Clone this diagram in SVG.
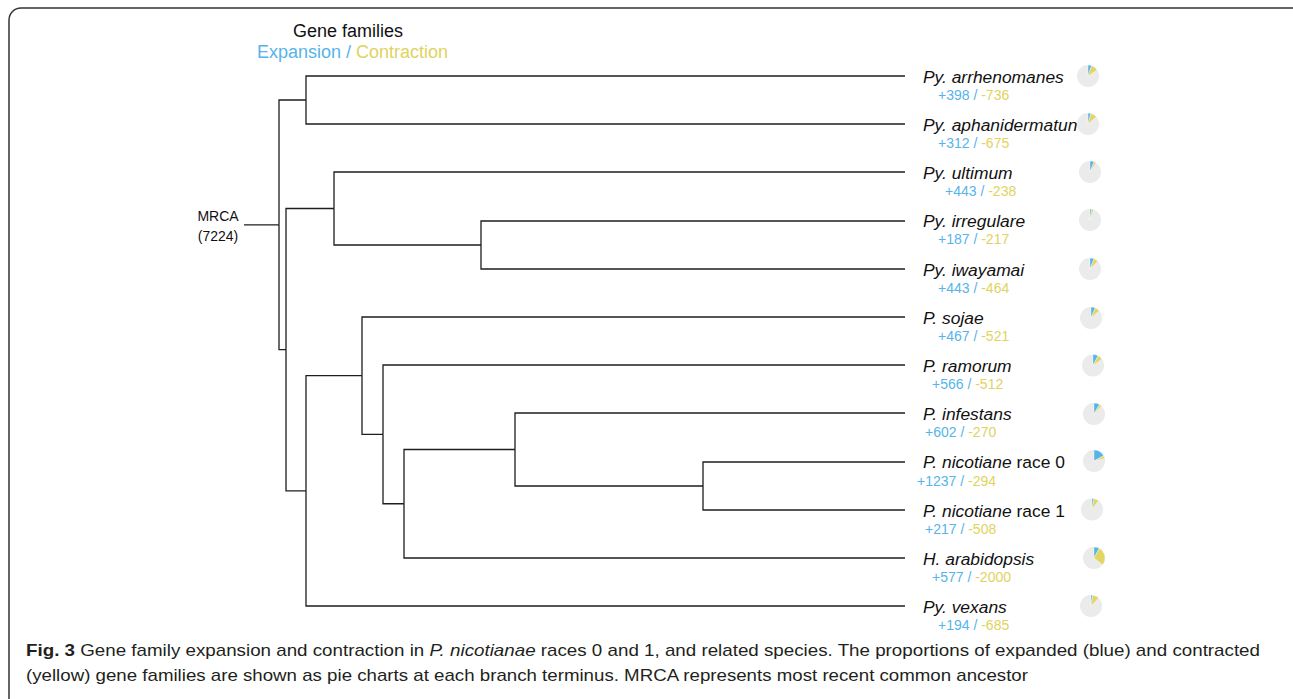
<svg xmlns="http://www.w3.org/2000/svg" width="1293" height="699" viewBox="0 0 1293 699">
<style>
.frame{fill:#fff;stroke:#333;stroke-width:1.5}
.edge{fill:none;stroke:#1e1e1e;stroke-width:1.3}
.sp{font-family:"Liberation Sans",Arial,sans-serif;font-size:17.4px;fill:#111}
.it{font-style:italic}
.num{font-family:"Liberation Sans",Arial,sans-serif;font-size:14px}
.ex{fill:#56B4E9}
.co{fill:#E0D35E}
.bg{fill:#ebebeb}
.pb{fill:#56B4E9;stroke:#fff;stroke-width:0.4}
.py{fill:#E2D563;stroke:#fff;stroke-width:0.4}
.hdr{font-family:"Liberation Sans",Arial,sans-serif;font-size:18px}
.mrca{font-family:"Liberation Sans",Arial,sans-serif;font-size:14px;fill:#111}
.cap{font-family:"Liberation Sans",Arial,sans-serif;font-size:17px;fill:#231f20}
</style>
<rect class="frame" x="9" y="8" width="1296" height="740" rx="12"/>

<g id="header">
<text class="hdr" x="293" y="37" fill="#111">Gene families</text>
<text class="hdr" x="257" y="58"><tspan class="ex">Expansion / </tspan><tspan class="co">Contraction</tspan></text>
</g>

<g id="mrca">
<text class="mrca" x="218" y="221" text-anchor="middle">MRCA</text>
<text class="mrca" x="218" y="241" text-anchor="middle">(7224)</text>
</g>

<g id="connectors">
<path class="edge" d="M244 224.8 H279"/>
<path class="edge" d="M279 224.8 V100 H306"/>
<path class="edge" d="M279 224.8 V349.7 H286"/>
<path class="edge" d="M306 100 V76 H905"/>
<path class="edge" d="M306 100 V124 H905"/>
<path class="edge" d="M286 349.7 V208.5 H334"/>
<path class="edge" d="M286 349.7 V490.85 H306"/>
<path class="edge" d="M334 208.5 V172 H905"/>
<path class="edge" d="M334 208.5 V245 H481"/>
<path class="edge" d="M481 245 V221 H905"/>
<path class="edge" d="M481 245 V269 H905"/>
<path class="edge" d="M306 490.85 V375.7 H362"/>
<path class="edge" d="M306 490.85 V606 H905"/>
<path class="edge" d="M362 375.7 V317 H905"/>
<path class="edge" d="M362 375.7 V434.4 H383"/>
<path class="edge" d="M383 434.4 V365 H905"/>
<path class="edge" d="M383 434.4 V503.75 H404"/>
<path class="edge" d="M404 503.75 V449.5 H515"/>
<path class="edge" d="M404 503.75 V558 H905"/>
<path class="edge" d="M515 449.5 V413 H905"/>
<path class="edge" d="M515 449.5 V486 H703"/>
<path class="edge" d="M703 486 V462 H905"/>
<path class="edge" d="M703 486 V510 H905"/>
</g>

<g id="arrhenomanes">
<text class="sp it" x="923" y="82.5">Py. arrhenomanes</text>
<text class="num" x="938" y="100"><tspan class="ex">+398 / </tspan><tspan class="co">-736</tspan></text>
<g transform="translate(1088,76)"><circle class="bg" r="11"/><path class="pb" d="M0 0 L0 -11 A11 11 0 0 1 3.73 -10.35 Z"/><path class="py" d="M0 0 L3.73 -10.35 A11 11 0 0 1 9.17 -6.07 Z"/></g>
</g>

<g id="aphanidermatum">
<text class="sp it" x="923" y="130.5">Py. aphanidermatun</text>
<text class="num" x="938" y="148"><tspan class="ex">+312 / </tspan><tspan class="co">-675</tspan></text>
<g transform="translate(1088,124)"><circle class="bg" r="11"/><path class="pb" d="M0 0 L0 -11 A11 11 0 0 1 2.95 -10.60 Z"/><path class="py" d="M0 0 L2.95 -10.60 A11 11 0 0 1 8.32 -7.19 Z"/></g>
</g>

<g id="ultimum">
<text class="sp it" x="923" y="178.5">Py. ultimum</text>
<text class="num" x="945" y="196"><tspan class="ex">+443 / </tspan><tspan class="co">-238</tspan></text>
<g transform="translate(1090,172)"><circle class="bg" r="11"/><path class="pb" d="M0 0 L0 -11 A11 11 0 0 1 4.13 -10.19 Z"/><path class="py" d="M0 0 L4.13 -10.19 A11 11 0 0 1 6.14 -9.13 Z"/></g>
</g>

<g id="irregulare">
<text class="sp it" x="923" y="227">Py. irregulare</text>
<text class="num" x="938" y="244"><tspan class="ex">+187 / </tspan><tspan class="co">-217</tspan></text>
<g transform="translate(1090,220)"><circle class="bg" r="11"/><path class="pb" d="M0 0 L0 -11 A11 11 0 0 1 1.78 -10.85 Z"/><path class="py" d="M0 0 L1.78 -10.85 A11 11 0 0 1 3.79 -10.33 Z"/></g>
</g>

<g id="iwayamai">
<text class="sp it" x="923" y="275.5">Py. iwayamai</text>
<text class="num" x="938" y="293"><tspan class="ex">+443 / </tspan><tspan class="co">-464</tspan></text>
<g transform="translate(1090,269)"><circle class="bg" r="11"/><path class="pb" d="M0 0 L0 -11 A11 11 0 0 1 4.13 -10.19 Z"/><path class="py" d="M0 0 L4.13 -10.19 A11 11 0 0 1 7.81 -7.75 Z"/></g>
</g>

<g id="sojae">
<text class="sp it" x="923" y="323.5">P. sojae</text>
<text class="num" x="938" y="341"><tspan class="ex">+467 / </tspan><tspan class="co">-521</tspan></text>
<g transform="translate(1091,318)"><circle class="bg" r="11"/><path class="pb" d="M0 0 L0 -11 A11 11 0 0 1 4.35 -10.10 Z"/><path class="py" d="M0 0 L4.35 -10.10 A11 11 0 0 1 8.33 -7.18 Z"/></g>
</g>

<g id="ramorum">
<text class="sp it" x="923" y="371.5">P. ramorum</text>
<text class="num" x="932" y="389"><tspan class="ex">+566 / </tspan><tspan class="co">-512</tspan></text>
<g transform="translate(1093,365.5)"><circle class="bg" r="11"/><path class="pb" d="M0 0 L0 -11 A11 11 0 0 1 5.20 -9.69 Z"/><path class="py" d="M0 0 L5.20 -9.69 A11 11 0 0 1 8.87 -6.51 Z"/></g>
</g>

<g id="infestans">
<text class="sp it" x="923" y="419.5">P. infestans</text>
<text class="num" x="925" y="437"><tspan class="ex">+602 / </tspan><tspan class="co">-270</tspan></text>
<g transform="translate(1094,414)"><circle class="bg" r="11"/><path class="pb" d="M0 0 L0 -11 A11 11 0 0 1 5.50 -9.53 Z"/><path class="py" d="M0 0 L5.50 -9.53 A11 11 0 0 1 7.57 -7.98 Z"/></g>
</g>

<g id="nicotiane0">
<text class="sp" x="923" y="468"><tspan class="it">P. nicotiane</tspan> race 0</text>
<text class="num" x="917" y="486"><tspan class="ex">+1237 / </tspan><tspan class="co">-294</tspan></text>
<g transform="translate(1094,461)"><circle class="bg" r="11"/><path class="pb" d="M0 0 L0 -11 A11 11 0 0 1 9.68 -5.23 Z"/><path class="py" d="M0 0 L9.68 -5.23 A11 11 0 0 1 10.69 -2.61 Z"/></g>
</g>

<g id="nicotiane1">
<text class="sp" x="923" y="516.5"><tspan class="it">P. nicotiane</tspan> race 1</text>
<text class="num" x="925" y="534"><tspan class="ex">+217 / </tspan><tspan class="co">-508</tspan></text>
<g transform="translate(1092,509.5)"><circle class="bg" r="11"/><path class="pb" d="M0 0 L0 -11 A11 11 0 0 1 2.06 -10.81 Z"/><path class="py" d="M0 0 L2.06 -10.81 A11 11 0 0 1 6.49 -8.88 Z"/></g>
</g>

<g id="arabidopsis">
<text class="sp it" x="923" y="564.5">H. arabidopsis</text>
<text class="num" x="932" y="582"><tspan class="ex">+577 / </tspan><tspan class="co">-2000</tspan></text>
<g transform="translate(1094,558)"><circle class="bg" r="11"/><path class="pb" d="M0 0 L0 -11 A11 11 0 0 1 5.29 -9.64 Z"/><path class="py" d="M0 0 L5.29 -9.64 A11 11 0 0 1 8.62 6.84 Z"/></g>
</g>

<g id="vexans">
<text class="sp it" x="923" y="612.5">Py. vexans</text>
<text class="num" x="938" y="630"><tspan class="ex">+194 / </tspan><tspan class="co">-685</tspan></text>
<g transform="translate(1091,606)"><circle class="bg" r="11"/><path class="pb" d="M0 0 L0 -11 A11 11 0 0 1 1.85 -10.84 Z"/><path class="py" d="M0 0 L1.85 -10.84 A11 11 0 0 1 7.62 -7.94 Z"/></g>
</g>

<g id="caption">
<text class="cap" x="26" y="656" textLength="1234" lengthAdjust="spacingAndGlyphs"><tspan font-weight="bold">Fig. 3</tspan> Gene family expansion and contraction in <tspan font-style="italic">P. nicotianae</tspan> races 0 and 1, and related species. The proportions of expanded (blue) and contracted</text>
<text class="cap" x="26" y="681" textLength="1002" lengthAdjust="spacingAndGlyphs">(yellow) gene families are shown as pie charts at each branch terminus. MRCA represents most recent common ancestor</text>
</g>
</svg>
